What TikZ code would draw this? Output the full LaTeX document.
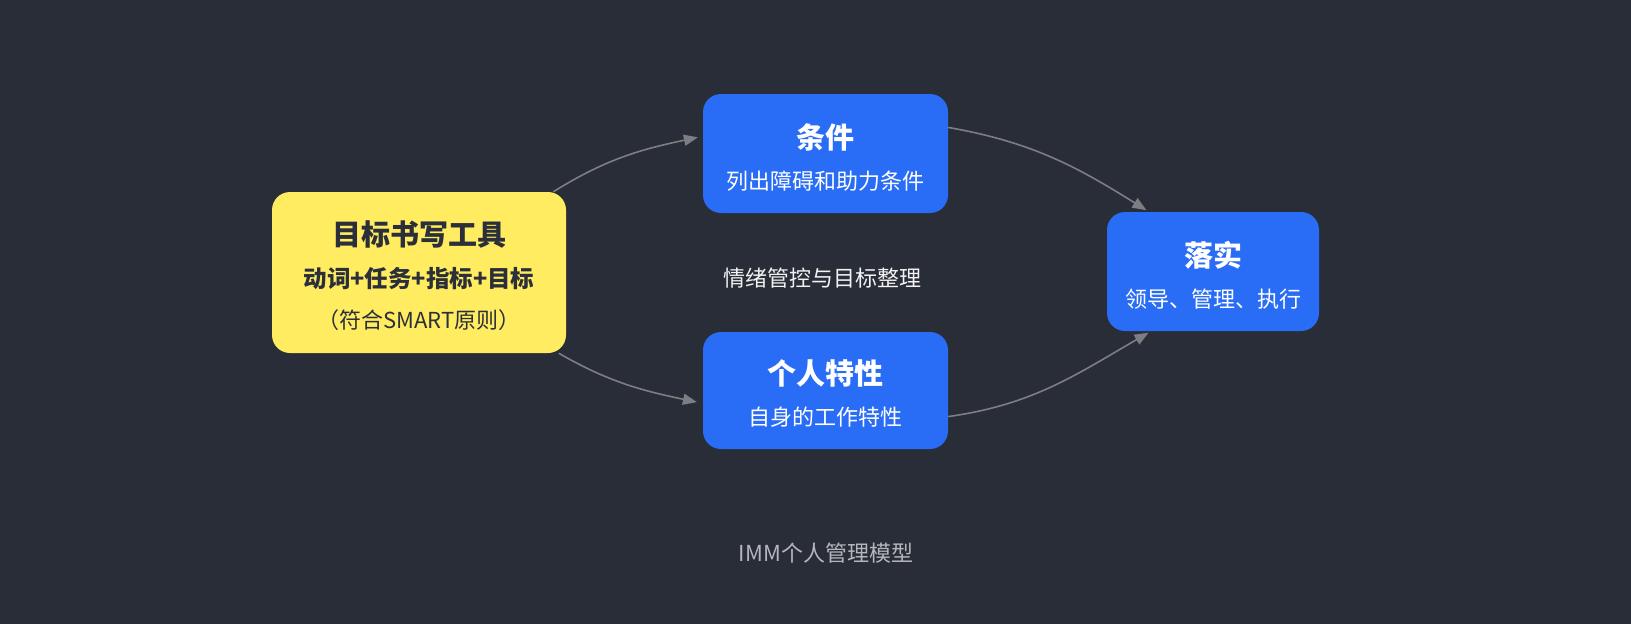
\documentclass[tikz,border=0pt]{standalone}
\usepackage{fontspec}
\setmainfont{Noto Sans CJK SC}
\usetikzlibrary{arrows.meta}
\definecolor{bgdark}{HTML}{292D38}
\definecolor{goalyellow}{HTML}{FFEC60}
\definecolor{cardblue}{HTML}{296CF6}
\definecolor{inkdark}{HTML}{2B2F3A}
\definecolor{flowgray}{HTML}{7C7E83}
\definecolor{notegray}{HTML}{B4B6BB}

\begin{document}
\begin{tikzpicture}[x=1pt,y=1pt,
    card/.style={rounded corners=18pt, inner sep=0pt},
    head/.style={font=\fontsize{29}{34}\selectfont\bfseries},
    sub/.style={font=\fontsize{22}{26}\selectfont},
    flow/.style={draw=flowgray, line width=1.6pt, -{Triangle[length=14pt,width=11pt]}}]
        \fill[bgdark] (0,0) rectangle (1631,-624);
        \useasboundingbox (0,0) rectangle (1631,-624);
        % boxes
        \node[card, fill=goalyellow, minimum width=294pt, minimum height=161pt] (goal) at (419,-272.5) {};
        \node[card, fill=cardblue, minimum width=245pt, minimum height=119pt] (cond) at (825.5,-153.5) {};
        \node[card, fill=cardblue, minimum width=245pt, minimum height=117pt] (trait) at (825.5,-390.5) {};
        \node[card, fill=cardblue, minimum width=212pt, minimum height=119pt] (act) at (1213,-271.5) {};
        % texts
        \node[head, text=inkdark] (goal-t) at (419,-235) {目标书写工具};
        \node[font=\fontsize{23.5}{27}\selectfont\bfseries, text=inkdark] (goal-s) at (419,-279) {动词+任务+指标+目标};
        \node[sub, text=inkdark] (goal-n) at (419,-320) {（符合SMART原则）};
        \node[head, text=white] (cond-t) at (825.5,-137) {条件};
        \node[sub, text=white] (cond-s) at (825.5,-181) {列出障碍和助力条件};
        \node[head, text=white] (trait-t) at (825.5,-373) {个人特性};
        \node[sub, text=white] (trait-s) at (825.5,-417) {自身的工作特性};
        \node[head, text=white] (act-t) at (1213,-255) {落实};
        \node[sub, text=white] (act-s) at (1213,-299) {领导、管理、执行};
        \node[sub, text=white!90!gray] (mid) at (822,-278) {情绪管控与目标整理};
        \node[sub, text=notegray] (title) at (826,-553) {IMM个人管理模型};
        % arrows
        \draw[flow, shorten >=5pt] (goal.31) to[out=32, in=192] (cond.172);
        \draw[flow, shorten >=6pt] (goal.-30) to[out=-30, in=168] (trait.186);
        \draw[flow, shorten >=3pt] (cond.12) to[out=-10, in=148] (act.137);
        \draw[flow, shorten >=3pt] (trait.-12) to[out=8, in=210] (act.-136);
    \end{tikzpicture}
\end{document}
